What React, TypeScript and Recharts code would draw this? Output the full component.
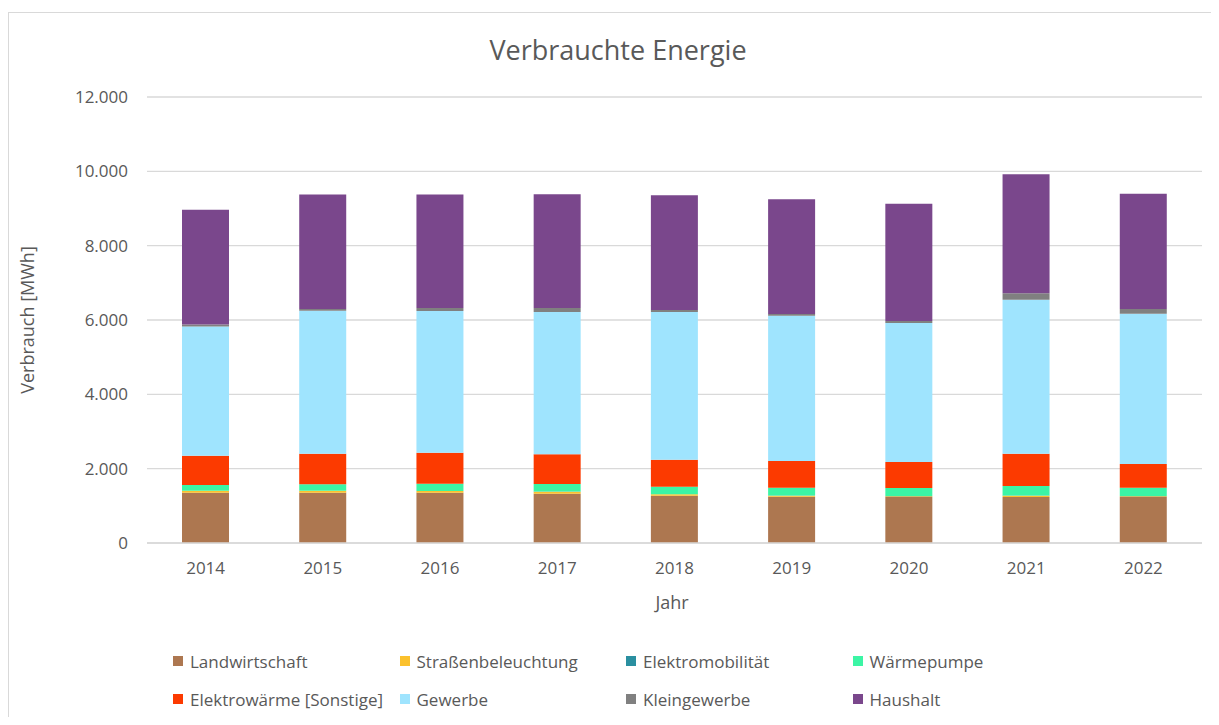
import { Bar, BarChart, CartesianGrid, XAxis, YAxis } from 'recharts';

const jahre = ['2014', '2015', '2016', '2017', '2018', '2019', '2020', '2021', '2022'];

const landwirtschaft = [1353, 1353, 1353, 1327, 1273, 1246, 1238, 1238, 1238];
const strassenbeleuchtung = [54, 54, 45, 54, 37, 27, 18, 35, 18];
const elektromobilitaet = [0, 0, 0, 2, 3, 4, 6, 8, 10];
const waermepumpe = [153, 172, 199, 205, 203, 211, 218, 253, 222];
const elektrowaerme = [789, 824, 833, 797, 725, 718, 699, 869, 637];
const gewerbe = [3473, 3847, 3812, 3830, 3974, 3910, 3740, 4142, 4045];
const kleingewerbe = [54, 45, 80, 107, 54, 45, 54, 172, 126];
const haushalt = [3093, 3080, 3053, 3063, 3088, 3089, 3157, 3202, 3104];

const yTicks = [0, 2000, 4000, 6000, 8000, 10000, 12000];

const serien = [
  { key: 'landwirtschaft', name: 'Landwirtschaft', color: '#ad7750', values: landwirtschaft },
  { key: 'strassen', name: 'Straßenbeleuchtung', color: '#fbc12d', values: strassenbeleuchtung },
  { key: 'emob', name: 'Elektromobilität', color: '#2a8fa0', values: elektromobilitaet },
  { key: 'wp', name: 'Wärmepumpe', color: '#3cf5a5', values: waermepumpe },
  { key: 'ew', name: 'Elektrowärme [Sonstige]', color: '#fc3a00', values: elektrowaerme },
  { key: 'gewerbe', name: 'Gewerbe', color: '#9fe4fe', values: gewerbe },
  { key: 'klein', name: 'Kleingewerbe', color: '#808080', values: kleingewerbe },
  { key: 'haushalt', name: 'Haushalt', color: '#7a478c', values: haushalt },
];

const daten = jahre.map((jahr, i) => {
  const row: { [key: string]: string | number } = { jahr };
  serien.forEach((s) => {
    row[s.key] = s.values[i];
  });
  return row;
});

const textFarbe = '#595959';
const font = '"Open Sans", sans-serif';

const formatTick = (v: number) => v.toLocaleString('de-DE');

const Legende = () => (
  <div
    style={{
      position: 'absolute', left: 173, top: 649, display: 'grid',
      gridTemplateColumns: 'repeat(4, 226.5px)', rowGap: 14, fontFamily: font,
    }}
  >
    {serien.map((s) => (
      <div key={s.key} style={{ display: 'flex', alignItems: 'center', fontSize: 17, color: textFarbe, height: 24, whiteSpace: 'nowrap' }}>
        <span style={{ display: 'inline-block', width: 10, height: 10, background: s.color, marginRight: 7 }} />
        {s.name}
      </div>
    ))}
  </div>
);

export default function App() {
  return (
    <div style={{ margin: -8, position: 'relative', width: 1219, height: 725, background: '#fff', overflow: 'hidden' }}>
      <div style={{ position: 'absolute', left: 8, top: 12, width: 1204, height: 730, border: '1px solid #d9d9d9' }} />
      <div style={{ position: 'absolute', left: 0, top: 31, width: 1236, textAlign: 'center', fontFamily: font, fontSize: 27, color: textFarbe }}>
        Verbrauchte Energie
      </div>
      <div
        style={{
          position: 'absolute', left: 27, top: 320, transform: 'translate(-50%, -50%) rotate(-90deg)',
          fontFamily: font, fontSize: 18, color: textFarbe, whiteSpace: 'nowrap',
        }}
      >
        Verbrauch [MWh]
      </div>
      <div style={{ position: 'absolute', left: 672, top: 602, transform: 'translate(-50%, -50%)', fontFamily: font, fontSize: 18, color: textFarbe }}>
        Jahr
      </div>
      <div style={{ position: 'absolute', left: 0, top: 0 }}>
        <BarChart width={1219} height={725} data={daten} margin={{ top: 97, right: 17, left: 87, bottom: 122 }}>
          <CartesianGrid vertical={false} stroke="#d9d9d9" strokeWidth={1.3} />
          <XAxis
            dataKey="jahr"
            stroke="#d9d9d9"
            strokeWidth={1.3}
            tickLine={false}
            tickSize={0}
            tickMargin={19}
            height={60}
            tick={{ fill: textFarbe, fontSize: 17, fontFamily: font }}
          />
          <YAxis
            width={60}
            domain={[0, 12000]}
            ticks={yTicks}
            tickFormatter={formatTick}
            axisLine={false}
            tickLine={false}
            tickSize={0}
            tickMargin={19}
            tick={{ fill: textFarbe, fontSize: 17, fontFamily: font }}
          />
          {serien.map((s) => (
            <Bar key={s.key} dataKey={s.key} name={s.name} stackId="a" fill={s.color} barSize={47} isAnimationActive={false} />
          ))}
        </BarChart>
      </div>
      <Legende />
    </div>
  );
}
